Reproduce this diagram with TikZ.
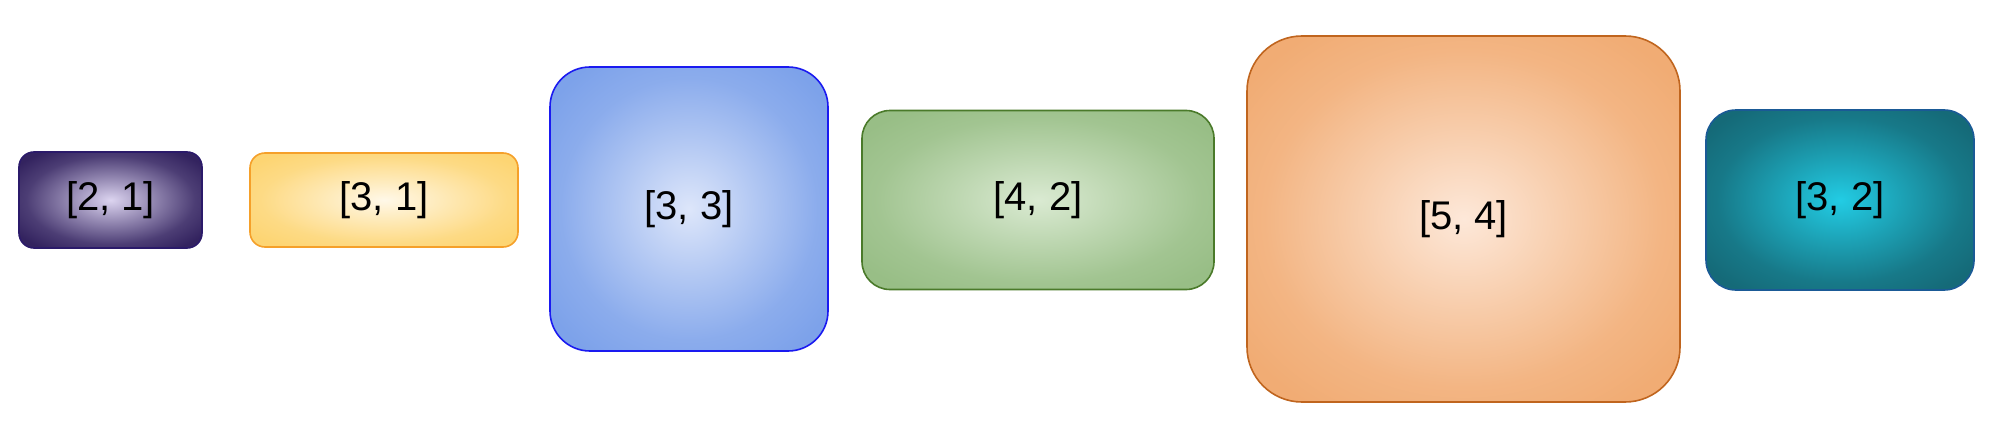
\documentclass[tikz,border=0pt]{standalone}
\usepackage{fontspec}
\setmainfont{Liberation Sans}
\definecolor{pOut}{HTML}{33235F}
\definecolor{pIn}{HTML}{DCD4F0}
\definecolor{pLn}{HTML}{2B1A6A}
\definecolor{yOut}{HTML}{FDD573}
\definecolor{yIn}{HTML}{FFF8E8}
\definecolor{yLn}{HTML}{F5A02A}
\definecolor{bOut}{HTML}{7DA2EA}
\definecolor{bIn}{HTML}{DDE6FA}
\definecolor{bLn}{HTML}{1A1AF0}
\definecolor{gOut}{HTML}{98BE86}
\definecolor{gIn}{HTML}{DAEAD2}
\definecolor{gLn}{HTML}{4A7A2A}
\definecolor{oOut}{HTML}{F1AC74}
\definecolor{oIn}{HTML}{FDE8D9}
\definecolor{oLn}{HTML}{C0651E}
\definecolor{cOut}{HTML}{156A78}
\definecolor{cIn}{HTML}{22CCE4}
\definecolor{cLn}{HTML}{1A5A96}
\colorlet{shin}{white}
\colorlet{shout}{black}
\pgfdeclareradialshading[shin,shout]{softglow}{\pgfpoint{0bp}{0bp}}{%
  color(0bp)=(shin);
  color(12bp)=(shin!55!shout);
  color(23bp)=(shout!85!shin);
  color(31bp)=(shout);
  color(50bp)=(shout)}
\tikzset{
  boxnode/.style={draw, line width=1.6pt, inner sep=0pt, font=\fontsize{40}{46}\selectfont, text=black},
  glow/.style 2 args={/utils/exec={\colorlet{shin}{#1}\colorlet{shout}{#2}}, shading=softglow},
}
\begin{document}
\begin{tikzpicture}[x=1pt,y=-1pt]
\useasboundingbox[fill=white] (0,0) rectangle (1994,436);
\node[boxnode, draw=pLn, glow={pIn}{pOut}, rounded corners=15pt,
  minimum width=183pt, minimum height=96pt] (b1) at (110.5,200) {[2, 1]};
\node[boxnode, draw=yLn, glow={yIn}{yOut}, rounded corners=15pt,
  minimum width=268pt, minimum height=94pt] (b2) at (384,200) {[3, 1]};
\node[boxnode, draw=bLn, glow={bIn}{bOut}, rounded corners=40pt,
  minimum width=278pt, minimum height=284pt] (b3) at (689,209) {[3, 3]};
\node[boxnode, draw=gLn, glow={gIn}{gOut}, rounded corners=28pt,
  minimum width=352pt, minimum height=179pt] (b4) at (1038,200) {[4, 2]};
\node[boxnode, draw=oLn, glow={oIn}{oOut}, rounded corners=55pt,
  minimum width=433pt, minimum height=366pt] (b5) at (1463.5,219) {[5, 4]};
\node[boxnode, draw=cLn, glow={cIn}{cOut}, rounded corners=30pt,
  minimum width=268pt, minimum height=180pt] (b6) at (1840,200) {[3, 2]};
\end{tikzpicture}
\end{document}
